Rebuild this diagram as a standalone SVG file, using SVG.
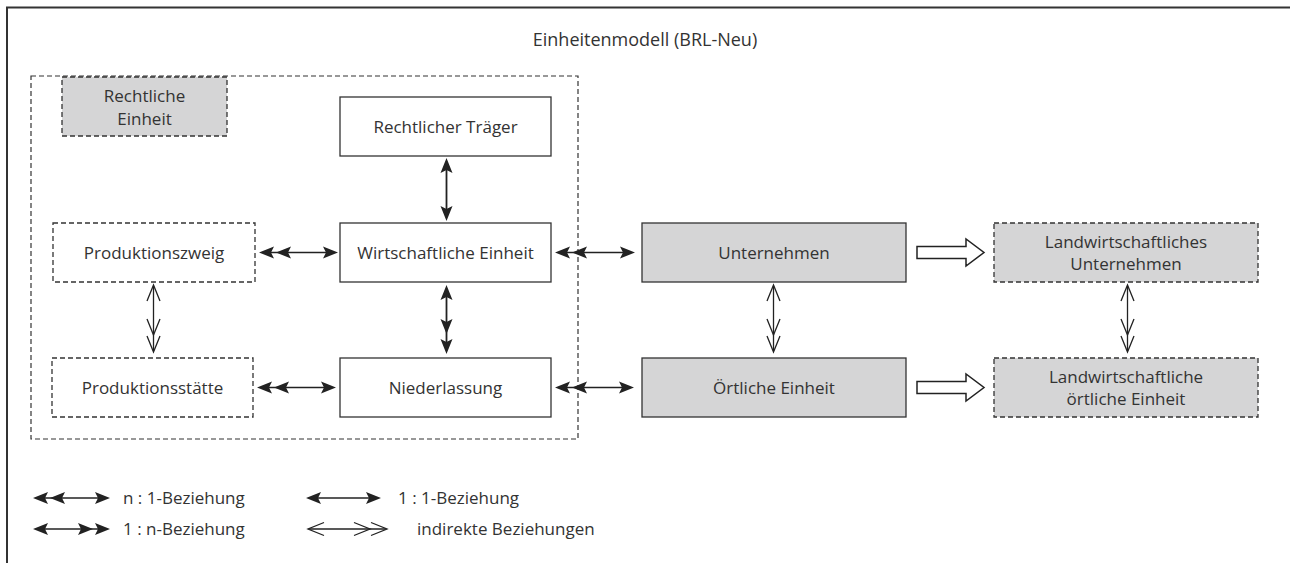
<svg xmlns="http://www.w3.org/2000/svg" xmlns:xlink="http://www.w3.org/1999/xlink" width="1290" height="563" viewBox="0 0 1290 563">
<style>
text{font-family:"Open Sans","DejaVu Sans",sans-serif;font-size:17px;fill:#333;text-anchor:middle}
.lg{text-anchor:start}
.box{fill:#fff;stroke:#333;stroke-width:1.3}
.grey{fill:#d5d5d6}
.dash{stroke-dasharray:5 3}
.ln{stroke:#222;stroke-width:1.8;fill:none}
.thin{stroke:#222;stroke-width:1.3;fill:none}
.hd{fill:#222}
.op{fill:none;stroke:#222;stroke-width:1.3}
.blk{fill:#fff;stroke:#222;stroke-width:1.5}
</style>
<defs>
<path id="h" d="M0,0 L-15,-6 L-12,0 L-15,6 Z"/>
<path id="o" d="M-16,-6.5 L0,0 L-16,6.5"/>
<path id="bk" d="M0,-6 L49,-6 L49,-13.5 L67,0 L49,13.5 L49,6 L0,6 Z"/>
</defs>
<rect width="1290" height="563" fill="#fff"/>
<g id="frame">
<path d="M7,563 L7,7.5 L1290,7.5" fill="none" stroke="#333" stroke-width="2"/>
</g>
<text x="645" y="46" style="font-size:18px">Einheitenmodell (BRL-Neu)</text>
<g id="container">
<rect x="31" y="76" width="547" height="363" fill="none" stroke="#333" stroke-width="1.2" class="dash"/>
</g>
<g id="rechtliche-einheit">
<rect x="62" y="77" width="165" height="59" class="box grey dash"/>
<text x="144.5" y="102">Rechtliche</text>
<text x="144.5" y="125">Einheit</text>
</g>
<g id="rechtlicher-traeger">
<rect x="340" y="97" width="211" height="59" class="box"/>
<text x="445.5" y="133">Rechtlicher Träger</text>
</g>
<g id="wirtschaftliche-einheit">
<rect x="340" y="223" width="211" height="59" class="box"/>
<text x="445.5" y="259">Wirtschaftliche Einheit</text>
</g>
<g id="niederlassung">
<rect x="340" y="358" width="211" height="59" class="box"/>
<text x="445.5" y="394">Niederlassung</text>
</g>
<g id="produktionszweig">
<rect x="53" y="223" width="202" height="59" class="box dash"/>
<text x="154" y="259">Produktionszweig</text>
</g>
<g id="produktionsstaette">
<rect x="52" y="358" width="201" height="59" class="box dash"/>
<text x="152.5" y="394">Produktionsstätte</text>
</g>
<g id="unternehmen">
<rect x="642" y="223" width="264" height="59" class="box grey"/>
<text x="774" y="259">Unternehmen</text>
</g>
<g id="oertliche-einheit">
<rect x="642" y="358" width="264" height="59" class="box grey"/>
<text x="774" y="394">Örtliche Einheit</text>
</g>
<g id="landw-unternehmen">
<rect x="994" y="223" width="264" height="59" class="box grey dash"/>
<text x="1126" y="248">Landwirtschaftliches</text>
<text x="1126" y="270">Unternehmen</text>
</g>
<g id="landw-oertliche-einheit">
<rect x="994" y="358" width="264" height="59" class="box grey dash"/>
<text x="1126" y="383">Landwirtschaftliche</text>
<text x="1126" y="405">örtliche Einheit</text>
</g>
<g id="connectors">
<!-- Traeger - Wirtschaftliche (1:1) -->
<line x1="446.5" y1="165" x2="446.5" y2="214" class="ln"/>
<use xlink:href="#h" class="hd" transform="translate(446.5,158) rotate(-90)"/>
<use xlink:href="#h" class="hd" transform="translate(446.5,221) rotate(90)"/>
<!-- Wirtschaftliche - Niederlassung (1:n) -->
<line x1="446.5" y1="292" x2="446.5" y2="347" class="ln"/>
<use xlink:href="#h" class="hd" transform="translate(446.5,285) rotate(-90)"/>
<use xlink:href="#h" class="hd" transform="translate(446.5,334) rotate(90)"/>
<use xlink:href="#h" class="hd" transform="translate(446.5,354) rotate(90)"/>
<!-- Produktionszweig - Wirtschaftliche (n:1) -->
<line x1="266" y1="252.5" x2="331" y2="252.5" class="thin"/>
<use xlink:href="#h" class="hd" transform="translate(259,252.5) rotate(180)"/>
<use xlink:href="#h" class="hd" transform="translate(276,252.5) rotate(180)"/>
<use xlink:href="#h" class="hd" transform="translate(338,252.5)"/>
<!-- Produktionsstaette - Niederlassung (n:1) -->
<line x1="264" y1="387.5" x2="329" y2="387.5" class="thin"/>
<use xlink:href="#h" class="hd" transform="translate(257,387.5) rotate(180)"/>
<use xlink:href="#h" class="hd" transform="translate(274,387.5) rotate(180)"/>
<use xlink:href="#h" class="hd" transform="translate(336,387.5)"/>
<!-- Wirtschaftliche - Unternehmen (n:1) -->
<line x1="562" y1="252.5" x2="628" y2="252.5" class="thin"/>
<use xlink:href="#h" class="hd" transform="translate(555,252.5) rotate(180)"/>
<use xlink:href="#h" class="hd" transform="translate(572,252.5) rotate(180)"/>
<use xlink:href="#h" class="hd" transform="translate(635,252.5)"/>
<!-- Niederlassung - Oertliche (n:1) -->
<line x1="562" y1="387.5" x2="627" y2="387.5" class="thin"/>
<use xlink:href="#h" class="hd" transform="translate(555,387.5) rotate(180)"/>
<use xlink:href="#h" class="hd" transform="translate(572,387.5) rotate(180)"/>
<use xlink:href="#h" class="hd" transform="translate(634,387.5)"/>
<!-- indirect relations -->
<line x1="153.5" y1="286" x2="153.5" y2="351" class="thin"/>
<use xlink:href="#o" class="op" transform="translate(153.5,285) rotate(-90)"/>
<use xlink:href="#o" class="op" transform="translate(153.5,335) rotate(90)"/>
<use xlink:href="#o" class="op" transform="translate(153.5,352) rotate(90)"/>
<line x1="773.5" y1="286" x2="773.5" y2="351" class="thin"/>
<use xlink:href="#o" class="op" transform="translate(773.5,285) rotate(-90)"/>
<use xlink:href="#o" class="op" transform="translate(773.5,335) rotate(90)"/>
<use xlink:href="#o" class="op" transform="translate(773.5,352) rotate(90)"/>
<line x1="1127.5" y1="286" x2="1127.5" y2="351" class="thin"/>
<use xlink:href="#o" class="op" transform="translate(1127.5,285) rotate(-90)"/>
<use xlink:href="#o" class="op" transform="translate(1127.5,335) rotate(90)"/>
<use xlink:href="#o" class="op" transform="translate(1127.5,352) rotate(90)"/>
<!-- block arrows -->
<use xlink:href="#bk" class="blk" transform="translate(917,252.5)"/>
<use xlink:href="#bk" class="blk" transform="translate(917,387.5)"/>
</g>
<g id="legend">
<line x1="40" y1="498" x2="103" y2="498" class="thin"/>
<use xlink:href="#h" class="hd" transform="translate(33,498) rotate(180)"/>
<use xlink:href="#h" class="hd" transform="translate(50,498) rotate(180)"/>
<use xlink:href="#h" class="hd" transform="translate(110,498)"/>
<text class="lg" x="123" y="504">n : 1-Beziehung</text>
<line x1="313" y1="498" x2="374" y2="498" class="thin"/>
<use xlink:href="#h" class="hd" transform="translate(306,498) rotate(180)"/>
<use xlink:href="#h" class="hd" transform="translate(381,498)"/>
<text class="lg" x="398" y="504">1 : 1-Beziehung</text>
<line x1="40" y1="529" x2="103" y2="529" class="thin"/>
<use xlink:href="#h" class="hd" transform="translate(33,529) rotate(180)"/>
<use xlink:href="#h" class="hd" transform="translate(93,529)"/>
<use xlink:href="#h" class="hd" transform="translate(110,529)"/>
<text class="lg" x="123" y="535">1 : n-Beziehung</text>
<line x1="309" y1="529" x2="386" y2="529" class="thin"/>
<use xlink:href="#o" class="op" transform="translate(308,529) rotate(180)"/>
<use xlink:href="#o" class="op" transform="translate(370,529)"/>
<use xlink:href="#o" class="op" transform="translate(387,529)"/>
<text class="lg" x="417" y="535">indirekte Beziehungen</text>
</g>
</svg>
